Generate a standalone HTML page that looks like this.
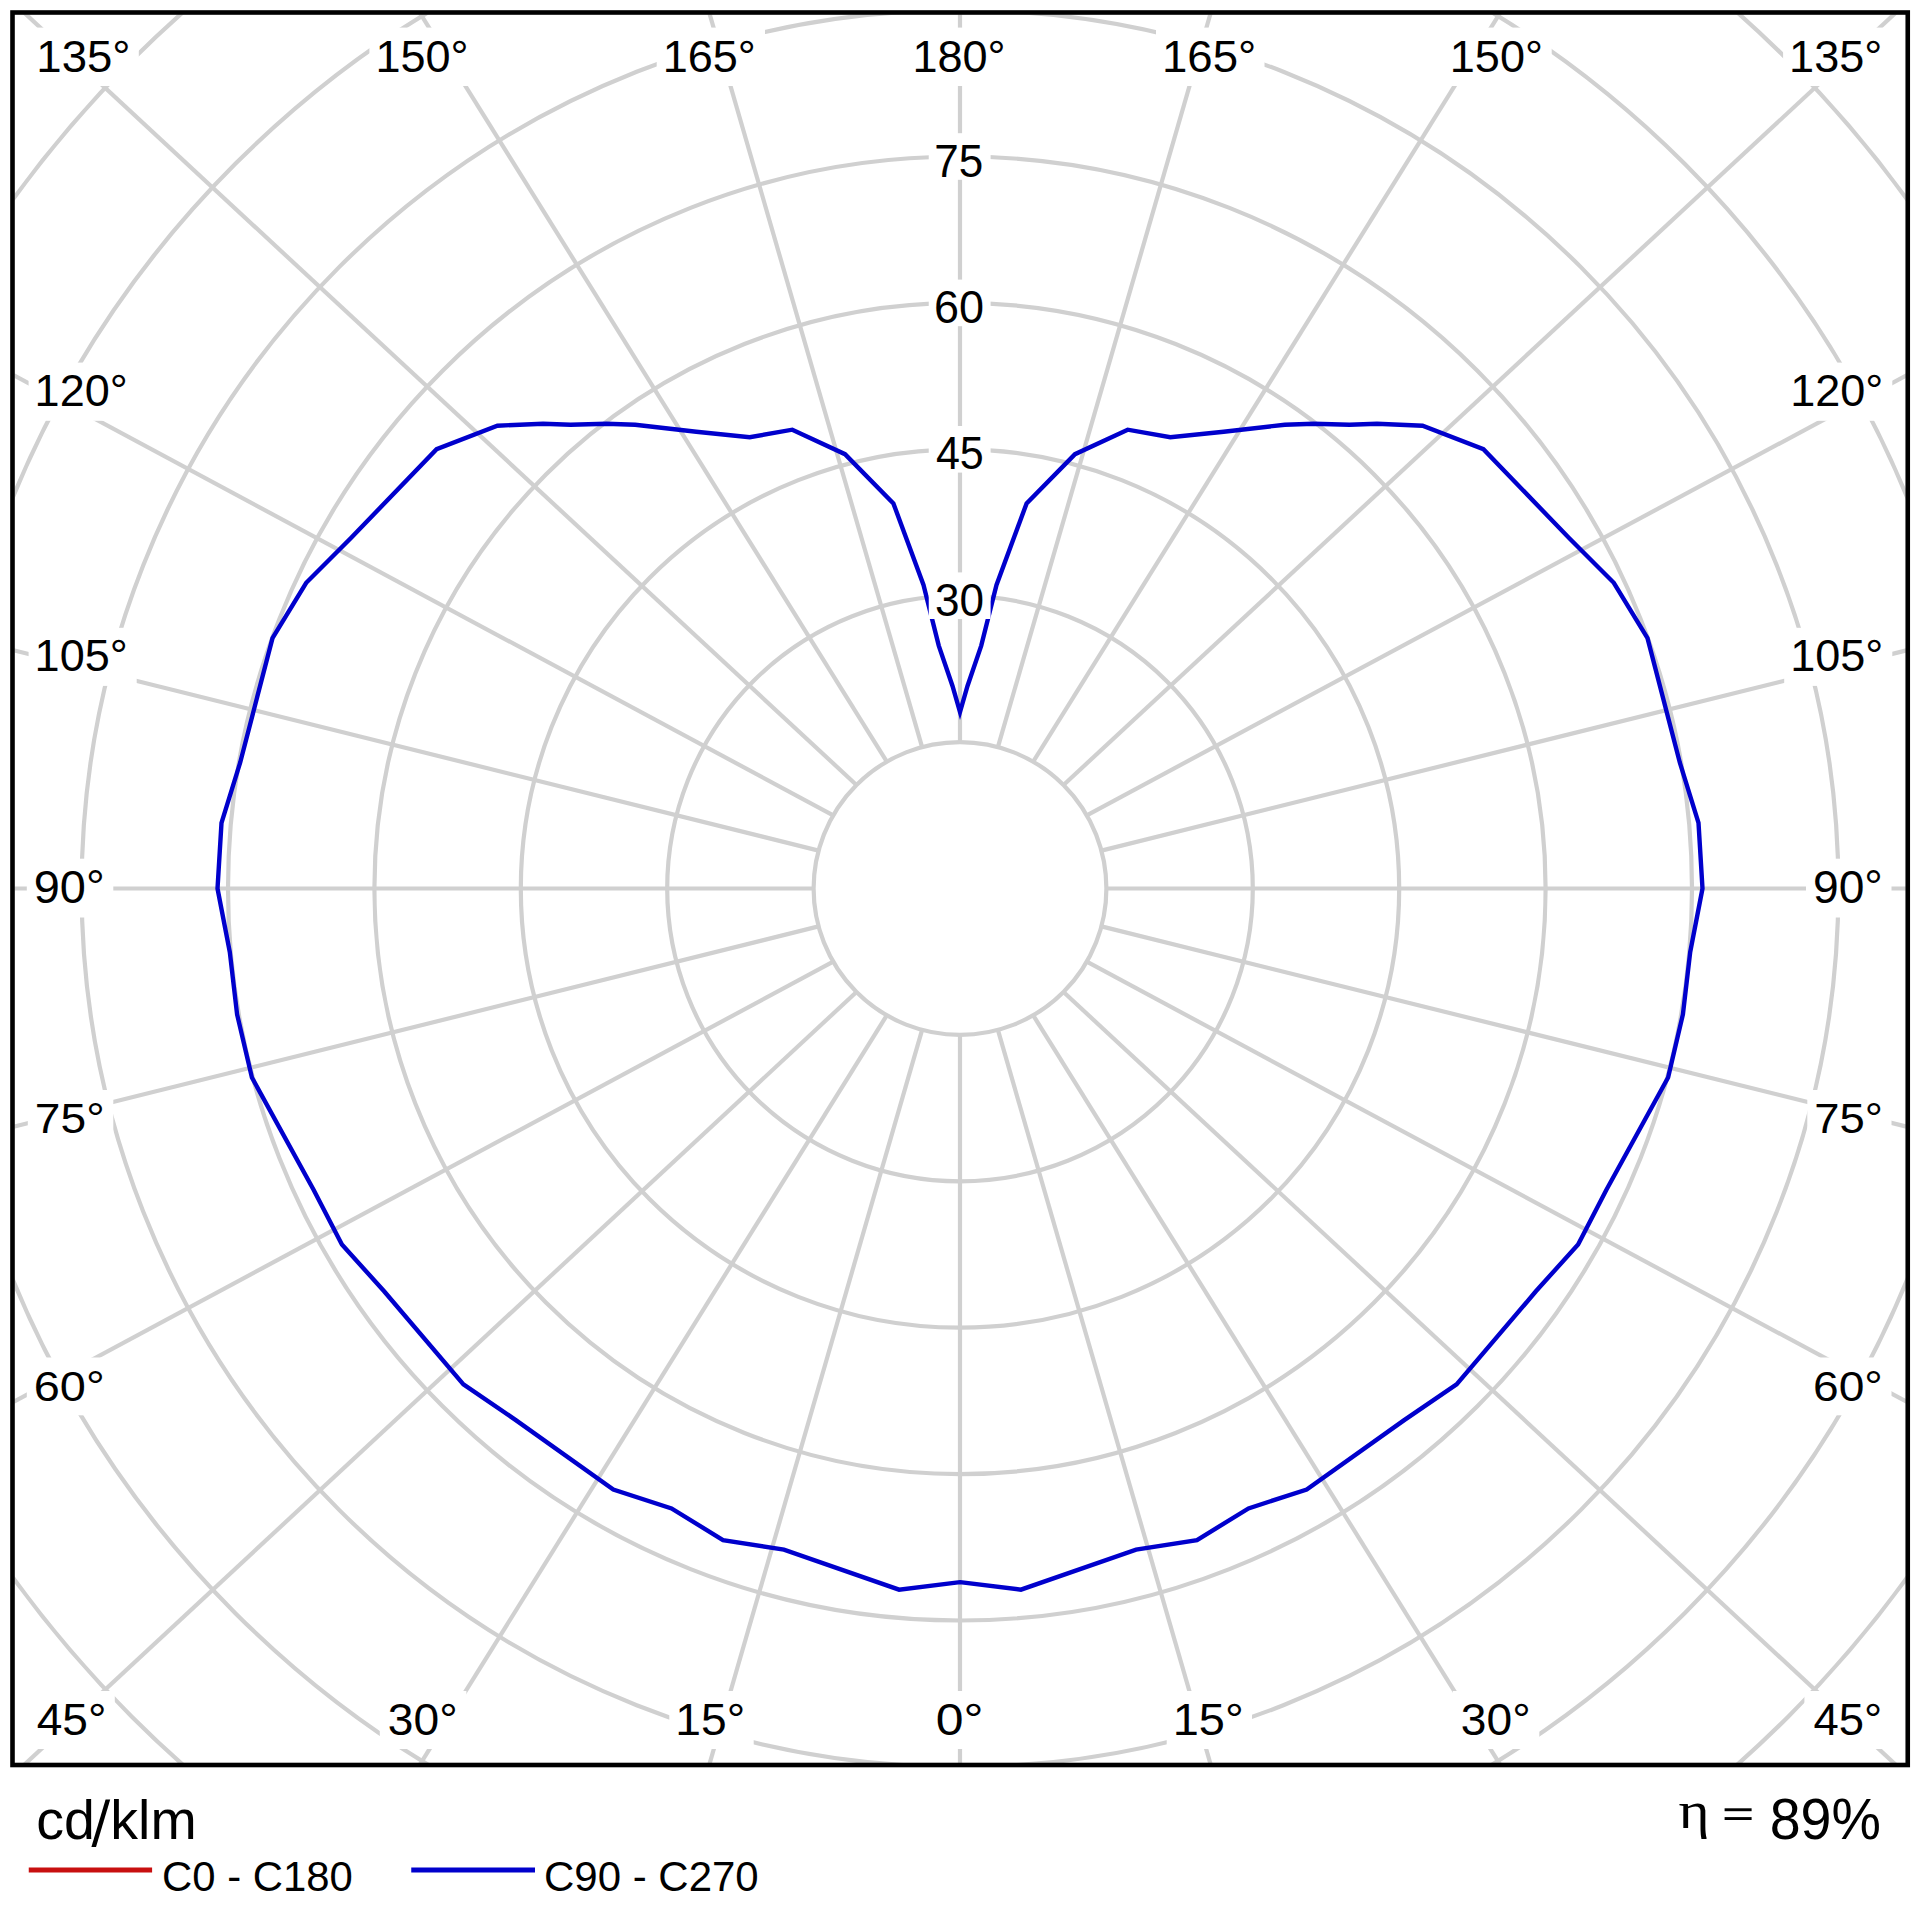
<!DOCTYPE html><html><head><meta charset="utf-8"><style>html,body{margin:0;padding:0;background:#fff;width:1920px;height:1920px;overflow:hidden}svg{display:block}text{font-family:"Liberation Sans",sans-serif;fill:#000}</style></head><body><svg width="1920" height="1920" viewBox="0 0 1920 1920"><rect x="0" y="0" width="1920" height="1920" fill="#fff"/><defs><clipPath id="fr"><rect x="14.5" y="14.5" width="1891.25" height="1748.5"/></clipPath></defs><g clip-path="url(#fr)"><g fill="none" stroke="#d0d0d0" stroke-width="4.2"><circle cx="960" cy="888.5" r="146.4"/><circle cx="960" cy="888.5" r="292.8"/><circle cx="960" cy="888.5" r="439.2"/><circle cx="960" cy="888.5" r="585.6"/><circle cx="960" cy="888.5" r="732"/><circle cx="960" cy="888.5" r="878.4"/><circle cx="960" cy="888.5" r="1024.8"/><circle cx="960" cy="888.5" r="1171.2"/><line x1="1106.4" y1="888.5" x2="1927.75" y2="888.5"/><line x1="1101.41" y1="926.39" x2="1927.16" y2="1131.8"/><line x1="1086.79" y1="961.7" x2="1925.37" y2="1411.8"/><line x1="1063.52" y1="992.02" x2="1910.66" y2="1778.61"/><line x1="1033.2" y1="1015.29" x2="1510.98" y2="1781.97"/><line x1="997.89" y1="1029.91" x2="1216.36" y2="1784.21"/><line x1="960" y1="1034.9" x2="960" y2="1785"/><line x1="922.11" y1="1029.91" x2="703.64" y2="1784.21"/><line x1="886.8" y1="1015.29" x2="409.02" y2="1781.97"/><line x1="856.48" y1="992.02" x2="9.34" y2="1778.61"/><line x1="833.21" y1="961.7" x2="-5.12" y2="1411.8"/><line x1="818.59" y1="926.39" x2="-6.91" y2="1131.8"/><line x1="813.6" y1="888.5" x2="-7.5" y2="888.5"/><line x1="818.59" y1="850.61" x2="-6.91" y2="645.2"/><line x1="833.21" y1="815.3" x2="-5.12" y2="365.2"/><line x1="856.48" y1="784.98" x2="9.34" y2="-1.1"/><line x1="886.8" y1="761.71" x2="409.02" y2="-4.47"/><line x1="922.11" y1="747.09" x2="703.63" y2="-6.71"/><line x1="960" y1="742.1" x2="960" y2="-7.5"/><line x1="997.89" y1="747.09" x2="1216.37" y2="-6.71"/><line x1="1033.2" y1="761.71" x2="1510.98" y2="-4.47"/><line x1="1063.52" y1="784.98" x2="1910.66" y2="-1.1"/><line x1="1086.79" y1="815.3" x2="1925.37" y2="365.2"/><line x1="1101.41" y1="850.61" x2="1927.16" y2="645.2"/></g><polygon fill="none" stroke="#0000cc" stroke-width="4.4" stroke-linejoin="miter" stroke-miterlimit="10" points="960,1582.1 1020.9,1589.7 1136.1,1549.6 1197,1540.1 1248.5,1508.4 1306.7,1489.5 1404.2,1420.1 1456.6,1384.4 1535.9,1291.3 1578.1,1244.4 1606.3,1190 1668.1,1077.5 1682.9,1014.4 1690.2,952.1 1702.5,888.5 1698.5,822.9 1679.8,762.5 1647.5,638.1 1613.8,582.8 1568.8,537.8 1483.4,449.1 1422.6,425.7 1377,423.7 1349.4,424.7 1313.7,423.7 1284.8,424.7 1223.7,431.7 1170.3,437.2 1127.7,429.7 1075,454.2 1026.6,503.4 996.5,585 981.25,645.6 967.5,686 960,712 952.5,686 938.75,645.6 923.5,585 893.4,503.4 845,454.2 792.3,429.7 749.7,437.2 696.3,431.7 635.2,424.7 606.3,423.7 570.6,424.7 543,423.7 497.4,425.7 436.6,449.1 351.2,537.8 306.2,582.8 272.5,638.1 240.2,762.5 221.5,822.9 217.5,888.5 229.8,952.1 237.1,1014.4 251.9,1077.5 313.7,1190 341.9,1244.4 384.1,1291.3 463.4,1384.4 515.8,1420.1 613.3,1489.5 671.5,1508.4 723,1540.1 783.9,1549.6 899.1,1589.7"/></g><g fill="#fff"><rect x="30.3" y="27.6" width="108.5" height="58.4"/><rect x="369.4" y="27.6" width="107.9" height="58.4"/><rect x="656.7" y="27.6" width="108.3" height="58.4"/><rect x="906.4" y="27.6" width="108.6" height="58.4"/><rect x="1156" y="27.6" width="108.5" height="58.4"/><rect x="1443.8" y="27.6" width="107.9" height="58.4"/><rect x="1783.1" y="27.6" width="108.1" height="58.4"/><rect x="28.6" y="362.6" width="108.1" height="58.2"/><rect x="28.6" y="627.8" width="108.1" height="58.1"/><rect x="26.8" y="858.7" width="86.5" height="58.8"/><rect x="27.8" y="1090" width="85.5" height="57.7"/><rect x="26.8" y="1357.5" width="86.5" height="57.8"/><rect x="27.7" y="1691" width="87.1" height="58"/><rect x="379.8" y="1691" width="86.6" height="58"/><rect x="669.3" y="1691" width="84.4" height="58"/><rect x="927.7" y="1691" width="64.3" height="58"/><rect x="1166.7" y="1691" width="85.3" height="58"/><rect x="1452.8" y="1691" width="86.5" height="58"/><rect x="1804.4" y="1691" width="86.5" height="58"/><rect x="1784.2" y="362.6" width="108.1" height="58.2"/><rect x="1784.2" y="627.8" width="108.1" height="58.1"/><rect x="1806" y="858.7" width="85.5" height="58.8"/><rect x="1807.3" y="1090" width="84.2" height="57.7"/><rect x="1806" y="1357.5" width="85.5" height="57.8"/><rect x="928.75" y="133.2" width="61.85" height="46.6"/><rect x="928.75" y="279.6" width="61.85" height="46.6"/><rect x="928.75" y="426" width="61.85" height="46.6"/><rect x="928.75" y="572.4" width="61.85" height="46.6"/></g><rect x="12.5" y="12.5" width="1895.25" height="1752.5" fill="none" stroke="#000" stroke-width="4.6"/><text font-size="44.02" transform="translate(36.3 71.5) scale(1.0355 1)" x="0" y="0">135°</text><text font-size="44.02" transform="translate(375.4 71.5) scale(1.0234 1)" x="0" y="0">150°</text><text font-size="44.02" transform="translate(662.7 71.5) scale(1.0232 1)" x="0" y="0">165°</text><text font-size="44.02" transform="translate(912.4 71.5) scale(1.0240 1)" x="0" y="0">180°</text><text font-size="44.02" transform="translate(1162 71.5) scale(1.0354 1)" x="0" y="0">165°</text><text font-size="44.02" transform="translate(1449.8 71.5) scale(1.0234 1)" x="0" y="0">150°</text><text font-size="44.02" transform="translate(1789.1 71.5) scale(1.0234 1)" x="0" y="0">135°</text><text font-size="44.05" transform="translate(34.6 406.3) scale(1.0228 1)" x="0" y="0">120°</text><text font-size="44.06" transform="translate(34.6 671.4) scale(1.0227 1)" x="0" y="0">105°</text><text font-size="45.65" transform="translate(33.8 903) scale(1.0273 1)" x="0" y="0">90°</text><text font-size="42.62" transform="translate(34.8 1133.2) scale(1.0834 1)" x="0" y="0">75°</text><text font-size="42.63" transform="translate(33.8 1400.8) scale(1.1001 1)" x="0" y="0">60°</text><text font-size="44.06" transform="translate(36.7 1734.5) scale(1.0474 1)" x="0" y="0">45°</text><text font-size="44.06" transform="translate(387.8 1734.5) scale(1.0481 1)" x="0" y="0">30°</text><text font-size="44.06" transform="translate(675.3 1734.5) scale(1.0494 1)" x="0" y="0">15°</text><text font-size="44.06" transform="translate(935.7 1734.5) scale(1.1343 1)" x="0" y="0">0°</text><text font-size="44.06" transform="translate(1172.7 1734.5) scale(1.0660 1)" x="0" y="0">15°</text><text font-size="44.06" transform="translate(1460.8 1734.5) scale(1.0484 1)" x="0" y="0">30°</text><text font-size="44.06" transform="translate(1813.4 1734.5) scale(1.0315 1)" x="0" y="0">45°</text><text font-size="44.05" transform="translate(1790.2 406.3) scale(1.0228 1)" x="0" y="0">120°</text><text font-size="44.06" transform="translate(1790.2 671.4) scale(1.0228 1)" x="0" y="0">105°</text><text font-size="45.65" transform="translate(1813 903) scale(1.0114 1)" x="0" y="0">90°</text><text font-size="42.62" transform="translate(1814.3 1133.2) scale(1.0666 1)" x="0" y="0">75°</text><text font-size="42.63" transform="translate(1813 1400.8) scale(1.0831 1)" x="0" y="0">60°</text><text font-size="45.44" transform="translate(934.2 176.9) scale(0.9699 1)" x="0" y="0">75</text><text font-size="45.45" transform="translate(933.9 323.4) scale(0.9906 1)" x="0" y="0">60</text><text font-size="45.47" transform="translate(935.9 469.4) scale(0.9468 1)" x="0" y="0">45</text><text font-size="45.48" transform="translate(934.9 615.6) scale(0.9687 1)" x="0" y="0">30</text><text font-size="55.11" transform="translate(36.25 1839.4) scale(1.0076 1)" x="0" y="0">cd<tspan fill="transparent">/</tspan>klm</text><text font-size="43.24" transform="translate(162 1891) scale(0.9684 1)" x="0" y="0">C0 - C180</text><text font-size="43.24" transform="translate(544 1891) scale(0.9714 1)" x="0" y="0">C90 - C270</text><text style="font-family:'Liberation Serif',serif" font-size="52.88" transform="translate(1678.4 1828.2) scale(1.1272 1)" x="0" y="0">η</text><text font-size="57.04" transform="translate(1769.7 1839) scale(0.9742 1)" x="0" y="0">89%</text><polygon points="105.6,1799.6 110.2,1799.6 96,1847 91.4,1847" fill="#000"/><rect x="1724.6" y="1808.3" width="27" height="2.9" fill="#000"/><rect x="1724.6" y="1817.1" width="27" height="2.9" fill="#000"/><line x1="28.75" y1="1869.9" x2="152.1" y2="1869.9" stroke="#c81010" stroke-width="5"/><line x1="411.25" y1="1869.9" x2="535" y2="1869.9" stroke="#0000cc" stroke-width="5"/></svg></body></html>
